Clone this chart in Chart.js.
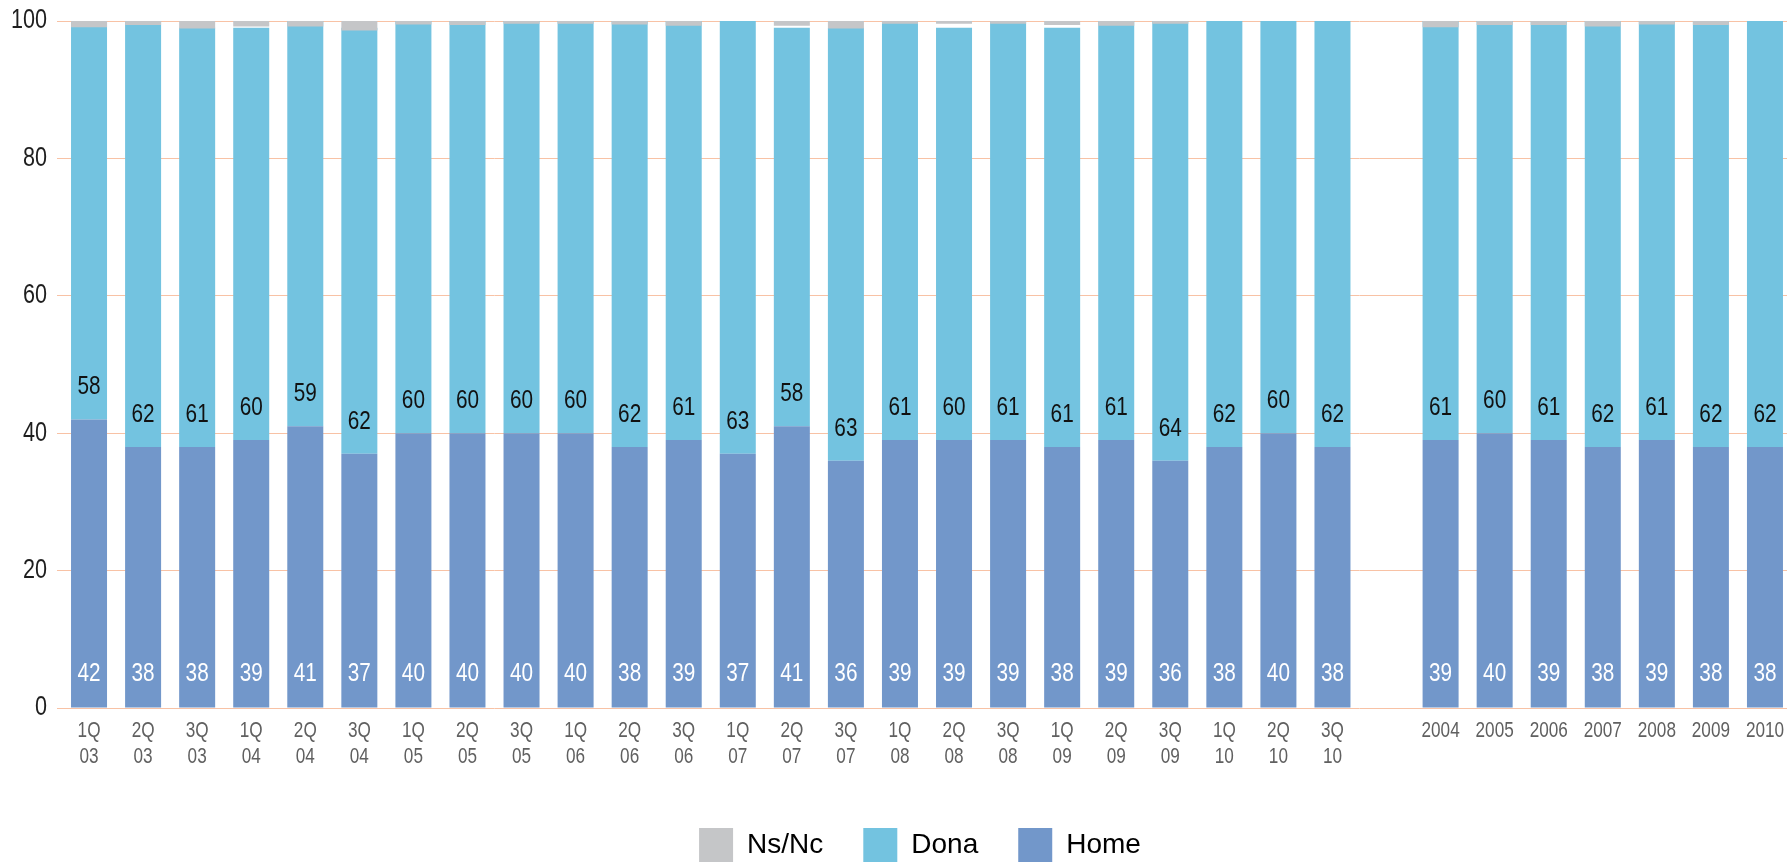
<!DOCTYPE html>
<html>
<head>
<meta charset="utf-8">
<script src="https://cdn.jsdelivr.net/npm/chart.js@4/dist/chart.umd.min.js"></script>
<style>
  html, body { margin: 0; padding: 0; background: #fff; overflow: hidden; }
  #wrap { position: relative; width: 1800px; height: 872px; }
</style>
</head>
<body>
<div id="wrap"><canvas id="chart"></canvas></div>
<script>
const FONT = "'Liberation Sans', Arial, sans-serif";

// quarterly waves, then yearly averages
const quarterLabels = [
  ['1Q', '03'], ['2Q', '03'], ['3Q', '03'],
  ['1Q', '04'], ['2Q', '04'], ['3Q', '04'],
  ['1Q', '05'], ['2Q', '05'], ['3Q', '05'],
  ['1Q', '06'], ['2Q', '06'], ['3Q', '06'],
  ['1Q', '07'], ['2Q', '07'], ['3Q', '07'],
  ['1Q', '08'], ['2Q', '08'], ['3Q', '08'],
  ['1Q', '09'], ['2Q', '09'], ['3Q', '09'],
  ['1Q', '10'], ['2Q', '10'], ['3Q', '10']
];
const yearLabels = ['2004', '2005', '2006', '2007', '2008', '2009', '2010'];

const homeQ = [42, 38, 38, 39, 41, 37, 40, 40, 40, 40, 38, 39, 37, 41, 36, 39, 39, 39, 38, 39, 36, 38, 40, 38];
const donaQ = [58, 62, 61, 60, 59, 62, 60, 60, 60, 60, 62, 61, 63, 58, 63, 61, 60, 61, 61, 61, 64, 62, 60, 62];
const nsncQ = [0.9, 0.6, 1.1, 0.8, 0.8, 1.4, 0.5, 0.6, 0.4, 0.4, 0.5, 0.7, 0, 0.7, 1.1, 0.4, 0.4, 0.4, 0.6, 0.7, 0.4, 0, 0, 0];

const homeY = [39, 40, 39, 38, 39, 38, 38];
const donaY = [61, 60, 61, 62, 61, 62, 62];
const nsncY = [0.9, 0.6, 0.6, 0.8, 0.5, 0.6, 0];

const yTicks = [0, 20, 40, 60, 80, 100];

// one empty slot between the two blocks
const labels = [...quarterLabels, '', ...yearLabels];
const home = [...homeQ, null, ...homeY];
const dona = [...donaQ, null, ...donaY];
const nsnc = [...nsncQ, null, ...nsncY];

// dataset indices
const NSNC = 0, HOME = 1, DONA = 2;
const legendRank = { [NSNC]: 0, [DONA]: 1, [HOME]: 2 };

// condensed text: squeeze horizontally around the anchor point
function narrowText(ctx, text, x, y, squeeze) {
  ctx.save();
  ctx.translate(x, y);
  ctx.scale(squeeze, 1);
  ctx.fillText(text, 0, 0);
  ctx.restore();
}

const axisText = {
  id: 'axisText',
  afterDraw(chart) {
    const ctx = chart.ctx;
    const xs = chart.scales.x, ys = chart.scales.y;
    ctx.save();
    ctx.textBaseline = 'middle';

    ctx.font = '27px ' + FONT;
    ctx.fillStyle = '#1e1e1e';
    ctx.textAlign = 'right';
    yTicks.forEach(v => narrowText(ctx, String(v), ys.right - 15, ys.getPixelForValue(v), 0.8));

    ctx.font = '22px ' + FONT;
    ctx.fillStyle = '#606060';
    ctx.textAlign = 'center';
    chart.data.labels.forEach((lab, i) => {
      const lines = Array.isArray(lab) ? lab : [lab];
      lines.forEach((t, k) => narrowText(ctx, t, xs.getPixelForValue(i), xs.top + 23 + k * 26, 0.78));
    });
    ctx.restore();
  }
};

const barLabels = {
  id: 'barLabels',
  afterDatasetsDraw(chart) {
    const ctx = chart.ctx;
    ctx.save();
    ctx.font = '25px ' + FONT;
    ctx.textAlign = 'center';
    ctx.textBaseline = 'middle';
    [[HOME, '#ffffff', 33], [DONA, '#111111', 32]].forEach(([di, color, lift]) => {
      const values = chart.data.datasets[di].data;
      ctx.fillStyle = color;
      chart.getDatasetMeta(di).data.forEach((bar, i) => {
        if (values[i] == null) return;
        narrowText(ctx, String(values[i]), bar.x, bar.base - lift, 0.83);
      });
    });
    ctx.restore();
  }
};

// legend sits a little right of the canvas centre
const nudgeLegend = {
  id: 'nudgeLegend',
  afterLayout(chart) {
    chart.legend.left += 24;
    chart.legend.right += 24;
  }
};

new Chart(document.getElementById('chart'), {
  type: 'bar',
  data: {
    labels: labels,
    datasets: [
      // no answer: the sliver under the 100 line, drawn over the others
      { label: 'Ns/Nc', data: nsnc.map(v => v == null ? null : [100 - v, 100]), backgroundColor: '#c5c6c8', yAxisID: 'y2' },
      { label: 'Home', data: home, backgroundColor: '#7297ca', yAxisID: 'y' },
      { label: 'Dona', data: dona, backgroundColor: '#73c3e0', yAxisID: 'y' }
    ]
  },
  options: {
    responsive: true,
    maintainAspectRatio: false,
    animation: false,
    datasets: { bar: { categoryPercentage: 1, barPercentage: 0.666, borderWidth: 0 } },
    layout: { padding: { left: 0, right: 8, top: 21, bottom: 0 } },
    scales: {
      x: {
        stacked: true,
        grid: { display: false },
        border: { display: false },
        ticks: { display: false },
        afterFit(scale) { scale.height = 80; }
      },
      y: {
        stacked: true,
        min: 0,
        max: 100,
        border: { display: false },
        grid: { color: '#f8c2a5', lineWidth: 1, drawTicks: true, tickLength: 5 },
        afterBuildTicks(scale) { scale.ticks = yTicks.map(v => ({ value: v })); },
        ticks: { display: false },
        afterFit(scale) { scale.width = 62; }
      },
      y2: { display: false, min: 0, max: 100, stacked: false }
    },
    plugins: {
      legend: {
        position: 'bottom',
        labels: {
          boxWidth: 34,
          boxHeight: 34,
          padding: 40,
          color: '#000',
          font: { family: FONT, size: 28 },
          sort: (a, b) => legendRank[a.datasetIndex] - legendRank[b.datasetIndex]
        }
      },
      tooltip: { enabled: false }
    }
  },
  plugins: [barLabels, axisText, nudgeLegend]
});
</script>
</body>
</html>
